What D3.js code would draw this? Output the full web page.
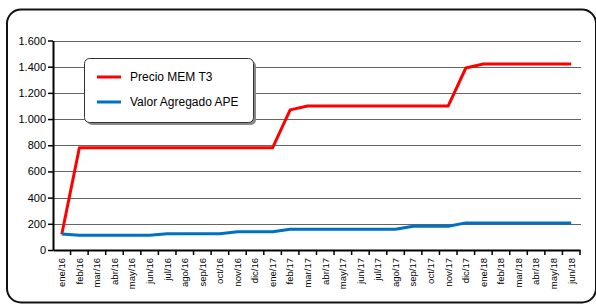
<!DOCTYPE html>
<html>
<head>
<meta charset="utf-8">
<script src="https://cdn.jsdelivr.net/npm/d3@7"></script>
<style>
  body { margin: 0; background: #fff; }
  svg { display: block; font-family: "Liberation Sans", Arial, sans-serif; }
</style>
</head>
<body>
<div id="chart-area"></div>
<script>
// months on the x axis
var months = ["ene/16","feb/16","mar/16","abr/16","may/16","jun/16","jul/16","ago/16","sep/16","oct/16","nov/16","dic/16",
              "ene/17","feb/17","mar/17","abr/17","may/17","jun/17","jul/17","ago/17","sep/17","oct/17","nov/17","dic/17",
              "ene/18","feb/18","mar/18","abr/18","may/18","jun/18"];

var precioMem = [120, 780, 780, 780, 780, 780, 780, 780, 780, 780, 780, 780,
                 780, 1070, 1100, 1100, 1100, 1100, 1100, 1100, 1100, 1100, 1100, 1390,
                 1420, 1420, 1420, 1420, 1420, 1420];

var valorApe = [122, 112, 112, 112, 112, 112, 124, 124, 124, 124, 139, 139,
                139, 158, 158, 158, 158, 158, 158, 158, 182, 182, 182, 207,
                207, 207, 207, 207, 207, 207];

var yTicks = [0, 200, 400, 600, 800, 1000, 1200, 1400, 1600];

var series = [
  {name: "Precio MEM T3", values: precioMem, color: "#ff0000"},
  {name: "Valor Agregado APE", values: valorApe, color: "#0070c0"}
];

var svg = d3.select("#chart-area").append("svg").attr("width", 596).attr("height", 305);

// outer frame
svg.append("rect")
  .attr("x", 7).attr("y", 9.5)
  .attr("width", 589).attr("height", 293)
  .attr("rx", 14).attr("ry", 14)
  .attr("fill", "none")
  .attr("stroke", "#111")
  .attr("stroke-width", 2);

var x = d3.scaleBand().domain(months).range([53, 580]);
var y = d3.scaleLinear().domain([0, 1600]).range([250, 40.5]);

// gridlines
svg.append("g").selectAll("line")
  .data(yTicks.filter(d => d > 0))
  .enter().append("line")
  .attr("x1", 53).attr("x2", 581)
  .attr("y1", d => Math.round(y(d)) + 0.5)
  .attr("y2", d => Math.round(y(d)) + 0.5)
  .attr("stroke", "#666")
  .attr("stroke-width", 1);

// Y axis
var yAxis = svg.append("g")
  .attr("transform", "translate(53,0)")
  .call(d3.axisLeft(y).tickValues(yTicks).tickSize(5).tickSizeOuter(0)
    .tickFormat(d => d3.format(",")(d).replace(/,/g, ".")));
yAxis.select(".domain").attr("stroke", "#000").attr("stroke-width", 2);
yAxis.selectAll(".tick line").attr("stroke", "#000").attr("stroke-width", 1.5);
yAxis.selectAll(".tick text").attr("font-size", "11px").attr("fill", "#000")
  .attr("x", -7).attr("font-family", "Liberation Sans, Arial, sans-serif");

// X axis
var xAxis = svg.append("g")
  .attr("transform", "translate(0,250)")
  .call(d3.axisBottom(x).tickSize(0).tickSizeOuter(0));
xAxis.select(".domain").attr("stroke", "#000").attr("stroke-width", 2);
xAxis.selectAll(".tick text")
  .attr("font-size", "9.5px").attr("fill", "#000")
  .attr("font-family", "Liberation Sans, Arial, sans-serif")
  .attr("transform", "rotate(-90)")
  .attr("text-anchor", "end")
  .attr("x", -8).attr("y", 0).attr("dy", "0.35em");

// x tick marks at band boundaries
svg.append("g").selectAll("line")
  .data(months)
  .enter().append("line")
  .attr("x1", d => x(d) + x.bandwidth())
  .attr("x2", d => x(d) + x.bandwidth())
  .attr("y1", 250).attr("y2", 255)
  .attr("stroke", "#000").attr("stroke-width", 1.5);

// lines
var line = d3.line()
  .x((d, i) => x(months[i]) + x.bandwidth() / 2)
  .y(d => y(d));

svg.append("g").selectAll("path")
  .data(series)
  .enter().append("path")
  .attr("d", d => line(d.values))
  .attr("fill", "none")
  .attr("stroke", d => d.color)
  .attr("stroke-width", 3)
  .attr("stroke-linejoin", "round");

// legend
var lg = svg.append("g").attr("transform", "translate(84,58)");
lg.append("rect")
  .attr("x", 3).attr("y", 3).attr("width", 169).attr("height", 64)
  .attr("rx", 5).attr("fill", "#888");
lg.append("rect")
  .attr("x", 0.5).attr("y", 0.5).attr("width", 169).attr("height", 64)
  .attr("rx", 5).attr("fill", "#fff").attr("stroke", "#333").attr("stroke-width", 1);

var items = lg.selectAll(".item").data(series).enter().append("g")
  .attr("transform", (d, i) => "translate(0," + (19 + i * 25) + ")");
items.append("line")
  .attr("x1", 13).attr("x2", 37).attr("y1", 0).attr("y2", 0)
  .attr("stroke", d => d.color).attr("stroke-width", 3);
items.append("text")
  .attr("x", 46).attr("y", 0).attr("dy", "0.35em")
  .attr("font-size", "12px").attr("fill", "#000")
  .text(d => d.name);
</script>
</body>
</html>
